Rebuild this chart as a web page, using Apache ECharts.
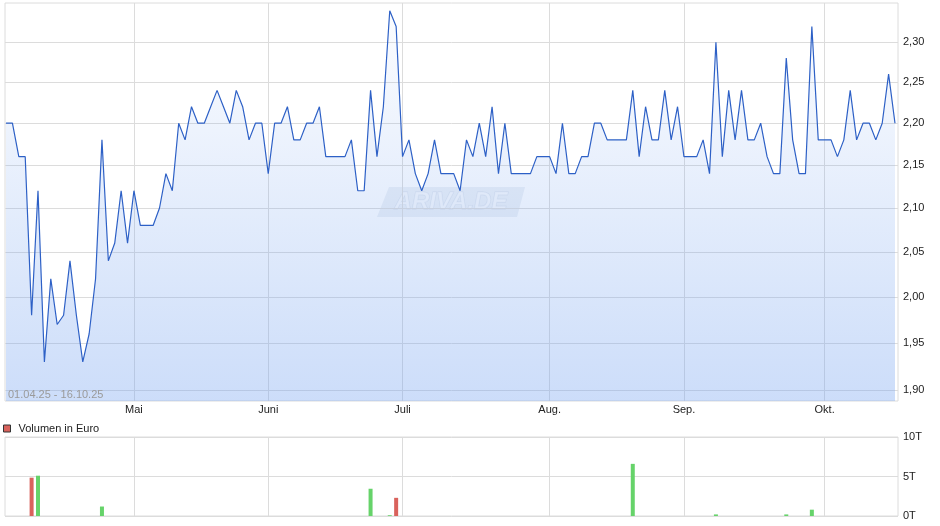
<!DOCTYPE html>
<html><head><meta charset="utf-8">
<script src="https://cdn.jsdelivr.net/npm/echarts@6/dist/echarts.min.js"></script>
<style>html,body{margin:0;padding:0;background:#fff}#c{width:940px;height:526px}</style>
</head><body><div id="c"></div>
<script>
// Trading calendar (categories)
const startDate = '2025-04-01';
const endDate = '2025-10-16';
const holidays = ['2025-04-18', '2025-04-21', '2025-05-01'];
const monthNames = ['Jan.', 'Feb.', 'März', 'April', 'Mai', 'Juni', 'Juli', 'Aug.', 'Sep.', 'Okt.', 'Nov.', 'Dez.'];

// Daily closing prices (EUR), one per trading day
const prices = [
  2.20, 2.20, 2.16, 2.16, 1.98, 2.12, 1.93, 2.02, 1.97, 1.98,
  2.04, 1.98, 1.93, 1.96, 2.02, 2.18, 2.04, 2.06, 2.12, 2.06,
  2.12, 2.08, 2.08, 2.08, 2.10, 2.14, 2.12, 2.20, 2.18, 2.22,
  2.20, 2.20, 2.22, 2.24, 2.22, 2.20, 2.24, 2.22, 2.18, 2.20,
  2.20, 2.14, 2.20, 2.20, 2.22, 2.18, 2.18, 2.20, 2.20, 2.22,
  2.16, 2.16, 2.16, 2.16, 2.18, 2.12, 2.12, 2.24, 2.16, 2.22,
  2.34, 2.32, 2.16, 2.18, 2.14, 2.12, 2.14, 2.18, 2.14, 2.14,
  2.14, 2.12, 2.18, 2.16, 2.20, 2.16, 2.22, 2.14, 2.20, 2.14,
  2.14, 2.14, 2.14, 2.16, 2.16, 2.16, 2.14, 2.20, 2.14, 2.14,
  2.16, 2.16, 2.20, 2.20, 2.18, 2.18, 2.18, 2.18, 2.24, 2.16,
  2.22, 2.18, 2.18, 2.24, 2.18, 2.22, 2.16, 2.16, 2.16, 2.18,
  2.14, 2.30, 2.16, 2.24, 2.18, 2.24, 2.18, 2.18, 2.20, 2.16,
  2.14, 2.14, 2.28, 2.18, 2.14, 2.14, 2.32, 2.18, 2.18, 2.18,
  2.16, 2.18, 2.24, 2.18, 2.20, 2.20, 2.18, 2.20, 2.26, 2.20
];

// Volume (EUR) on days with turnover: trading-day index and value
const volumeDayIndex = [4, 5, 15, 57, 60, 61, 98, 111, 122, 126];
const volumeEuro = [4850, 5100, 1200, 3450, 100, 2300, 6600, 200, 200, 800];

// Tick labels
const priceTicks = [1.90, 1.95, 2.00, 2.05, 2.10, 2.15, 2.20, 2.25, 2.30];
const volumeTicks = [0, 5000, 10000];
const volumeTickLabels = ['0T', '5T', '10T'];
const dateRangeLabel = '01.04.25 - 16.10.25';

function tradingDays() {
  const out = [];
  const d = new Date(startDate + 'T12:00:00Z');
  const end = new Date(endDate + 'T12:00:00Z');
  while (d <= end) {
    const s = d.toISOString().slice(0, 10);
    const wd = d.getUTCDay();
    if (wd !== 0 && wd !== 6 && holidays.indexOf(s) < 0) out.push(s);
    d.setUTCDate(d.getUTCDate() + 1);
  }
  return out;
}
const dates = tradingDays();
const monthStartIdx = [];
for (let i = 1; i < dates.length; i++) {
  if (dates[i].slice(5, 7) !== dates[i - 1].slice(5, 7)) monthStartIdx.push(i);
}
const monthLabel = v => monthNames[parseInt(dates[Math.round(v)].slice(5, 7), 10) - 1];

const up = '#66d36a', down = '#d9625c';
const volData = volumeDayIndex.map((idx, k) => {
  const rising = idx === 0 || prices[idx] >= prices[idx - 1];
  return { value: [idx, volumeEuro[k]], itemStyle: { color: rising ? up : down } };
});

const xMin = -0.16, xMax = 139.47;
const font = 'Liberation Sans, Arial, sans-serif';
const gridLine = { show: true, lineStyle: { color: '#dcdcdc', width: 1 } };

const chart = echarts.init(document.getElementById('c'), null, { renderer: 'canvas' });
chart.setOption({
  animation: false,
  backgroundColor: '#fff',
  textStyle: { fontFamily: font },
  grid: [
    { left: 5, right: 42, top: 3, height: 398, show: true, borderColor: '#dcdcdc', borderWidth: 1 },
    { left: 5, right: 42, top: 437, height: 79, show: true, borderColor: '#dcdcdc', borderWidth: 1 }
  ],
  legend: {
    left: 3, top: 423, padding: 0, itemWidth: 7, itemHeight: 7, icon: 'rect',
    itemStyle: { borderColor: '#333', borderWidth: 1 },
    textStyle: { fontSize: 11, color: '#222', fontFamily: font, padding: [0, 0, 0, 3] },
    data: ['Volumen in Euro'], selectedMode: false
  },
  xAxis: [
    {
      type: 'value', gridIndex: 0, min: xMin, max: xMax,
      axisLine: { show: false },
      axisTick: { show: false, customValues: monthStartIdx },
      axisLabel: { customValues: monthStartIdx, formatter: monthLabel, fontSize: 11, color: '#222', margin: 3, fontFamily: font },
      splitLine: gridLine
    },
    {
      type: 'value', gridIndex: 1, min: xMin, max: xMax,
      axisLine: { show: false },
      axisTick: { show: false, customValues: monthStartIdx },
      axisLabel: { show: false, customValues: monthStartIdx },
      splitLine: gridLine
    }
  ],
  yAxis: [
    {
      type: 'log', gridIndex: 0, position: 'right', min: 1.889, max: 2.35,
      axisLine: { show: false },
      axisTick: { show: false, customValues: priceTicks },
      axisLabel: {
        customValues: priceTicks, fontSize: 11, color: '#222', margin: 5, fontFamily: font,
        formatter: v => v.toFixed(2).replace('.', ',')
      },
      splitLine: gridLine
    },
    {
      type: 'value', gridIndex: 1, position: 'right', min: 0, max: 10000, interval: 5000,
      axisLine: { show: false }, axisTick: { show: false },
      axisLabel: {
        fontSize: 11, color: '#222', margin: 5, fontFamily: font,
        formatter: v => volumeTickLabels[volumeTicks.indexOf(v)]
      },
      splitLine: gridLine
    }
  ],
  series: [
    {
      name: 'Kurs', type: 'line', xAxisIndex: 0, yAxisIndex: 0,
      data: prices.map((v, i) => [i, v]),
      symbol: 'none', smooth: false,
      lineStyle: { color: '#2d60c6', width: 1.2 },
      areaStyle: {
        origin: 'start',
        color: new echarts.graphic.LinearGradient(0, 0, 0, 1, [
          { offset: 0, color: 'rgba(120,165,240,0.04)' },
          { offset: 1, color: 'rgba(118,163,240,0.53)' }
        ])
      },
      z: 3
    },
    {
      name: 'Volumen in Euro', type: 'bar', xAxisIndex: 1, yAxisIndex: 1,
      data: volData, barWidth: 4, itemStyle: { color: down }
    }
  ],
  graphic: [
    {
      type: 'group', left: 377, top: 187, z: 1, silent: true,
      children: [
        { type: 'polygon', shape: { points: [[12, 0], [148, 0], [140, 30], [0, 30]] }, style: { fill: 'rgba(185,198,218,0.25)' } },
        { type: 'text', x: 74, y: 15, style: { text: 'ARIVA.DE', font: 'italic bold 24px Liberation Sans, Arial, sans-serif', fill: 'rgba(255,255,255,0.6)', stroke: 'rgba(185,198,218,0.35)', lineWidth: 1, align: 'center', verticalAlign: 'middle' } }
      ]
    },
    {
      type: 'text', left: 8, top: 389, z: 10, silent: true,
      style: { text: dateRangeLabel, font: '11px Liberation Sans, Arial, sans-serif', fill: '#9a9a9a' }
    }
  ]
});
</script>
</body></html>
